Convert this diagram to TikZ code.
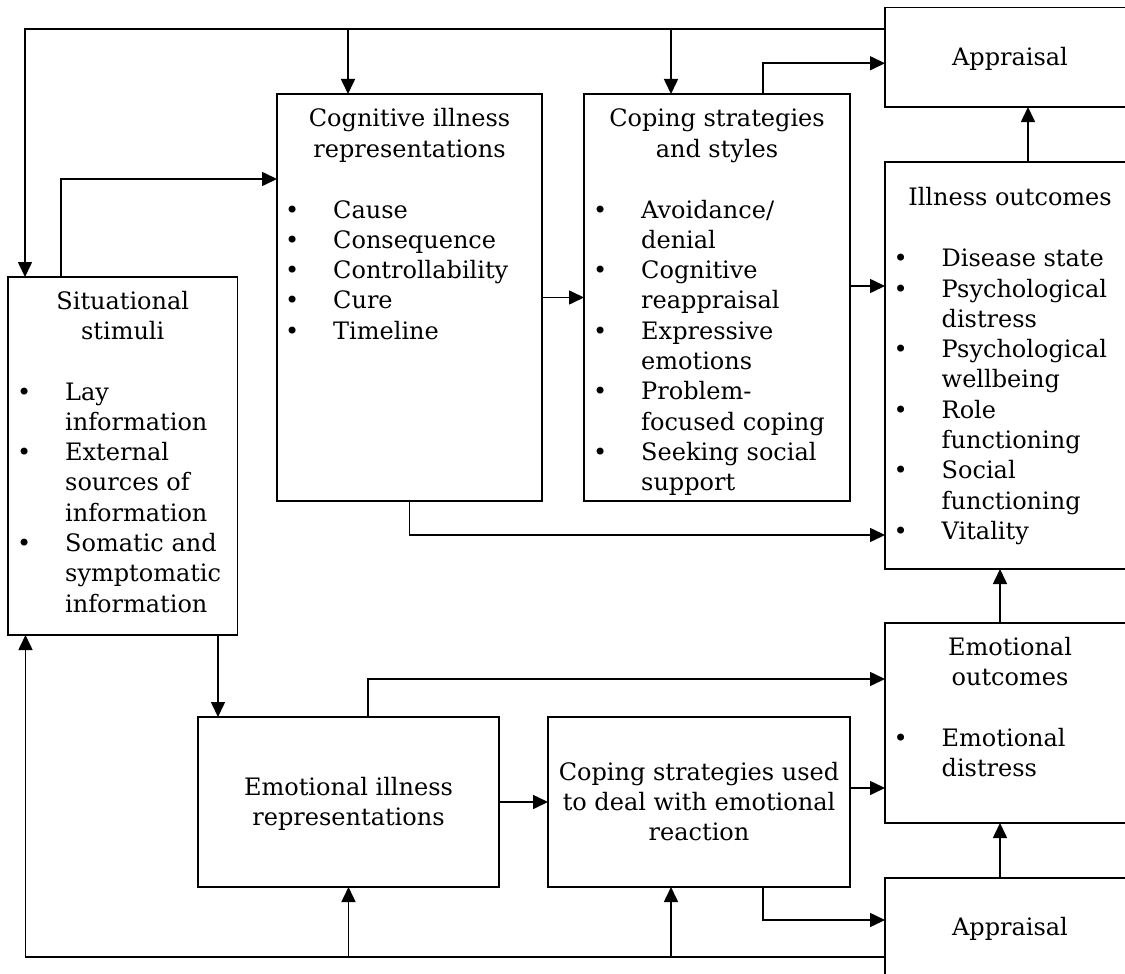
\documentclass[tikz,border=0pt]{standalone}
\usepackage{fontspec}
\setmainfont{DejaVu Serif}
\usetikzlibrary{arrows.meta}

% bullet item and continuation line for the box lists
\newcommand{\bitem}[1]{\makebox[0pt][c]{\textbullet}\hspace*{41pt}#1}
\newcommand{\bcont}[1]{\hspace*{41pt}#1}

\begin{document}
\begin{tikzpicture}[x=1pt,y=-1pt,
  txt/.style={font=\fontsize{24}{30.3}\selectfont},
  box/.style={draw, line width=1.6pt, rectangle, inner sep=0pt, outer sep=0pt, anchor=north west},
  % text nodes are placed by the baseline of their last line
  ttl/.style={txt, anchor=base, align=center, inner sep=0pt},
  lst/.style={txt, anchor=base west, align=left, inner sep=0pt},
  arr/.style={line width=1.6pt, -{Triangle[length=15pt,width=14pt]}},
]
\useasboundingbox (0,0) rectangle (1125,974);
\fill[white] (0,0) rectangle (1125,974);
\clip (0,0) rectangle (1125,974);

% boxes
\node[box, minimum width=229.5, minimum height=358] (sit) at (8,277) {};
\node[box, minimum width=265, minimum height=407] (cog) at (277,94) {};
\node[box, minimum width=266, minimum height=407] (cop) at (584,94) {};
\node[box, minimum width=250, minimum height=99.5] (apT) at (885,7.5) {};
\node[box, minimum width=250, minimum height=407] (ill) at (885,162) {};
\node[box, minimum width=250, minimum height=200] (emO) at (885,623) {};
\node[box, minimum width=301, minimum height=170] (emI) at (198,717) {};
\node[box, minimum width=302, minimum height=170] (cpE) at (548,717) {};
\node[box, minimum width=250, minimum height=100] (apB) at (885,878) {};

% box texts
\node[ttl] (sitT) at (122.75,339.6) {Situational\\stimuli};
\node[lst] (sitL) at (24,612.1) {\bitem{Lay}\\\bcont{information}\\\bitem{External}\\\bcont{sources of}\\\bcont{information}\\\bitem{Somatic and}\\\bcont{symptomatic}\\\bcont{information}};

\node[ttl] (cogT) at (409.5,157) {Cognitive illness\\representations};
\node[lst] (cogL) at (292,339.2) {\bitem{Cause}\\\bitem{Consequence}\\\bitem{Controllability}\\\bitem{Cure}\\\bitem{Timeline}};

\node[ttl] (copT) at (717,157) {Coping strategies\\and styles};
\node[lst] (copL) at (600,490.7) {\bitem{Avoidance/}\\\bcont{denial}\\\bitem{Cognitive}\\\bcont{reappraisal}\\\bitem{Expressive}\\\bcont{emotions}\\\bitem{Problem-}\\\bcont{focused coping}\\\bitem{Seeking social}\\\bcont{support}};

\node[ttl] (apTT) at (1010,65.7) {Appraisal};

\node[ttl] (illT) at (1010,205) {Illness outcomes};
\node[lst] (illL) at (900.5,539.4) {\bitem{Disease state}\\\bitem{Psychological}\\\bcont{distress}\\\bitem{Psychological}\\\bcont{wellbeing}\\\bitem{Role}\\\bcont{functioning}\\\bitem{Social}\\\bcont{functioning}\\\bitem{Vitality}};

\node[ttl] (emOT) at (1010,685.3) {Emotional\\outcomes};
\node[lst] (emOL) at (900.5,776.3) {\bitem{Emotional}\\\bcont{distress}};

\node[ttl] (emIT) at (348.5,825.3) {Emotional illness\\representations};
\node[ttl] (cpET) at (699,840.6) {Coping strategies used\\to deal with emotional\\reaction};

\node[ttl] (apBT) at (1010,935) {Appraisal};

% rails and connection points
\coordinate (rT) at (25,29);
\coordinate (rB) at (25.5,957);
\coordinate (cogIn) at ([xshift=-61.5]cog.north);
\coordinate (copIn) at ([xshift=-46]cop.north);
\coordinate (sitUp) at ([xshift=-61.75]sit.north);
\coordinate (cogW) at ([yshift=118.5]cog.west);
\coordinate (copR) at ([yshift=11.5]cop.east);
\coordinate (copUp) at ([xshift=46]cop.north);
\coordinate (apTL) at ([yshift=-6]apT.west);
\coordinate (illUp) at ([xshift=18]ill.north);
\coordinate (illW) at ([yshift=-169.5]ill.west);
\coordinate (sitDn) at ([xshift=95.25]sit.south);
\coordinate (emIUp) at ([xshift=19.5]emI.north);
\coordinate (emOW) at ([yshift=44]emO.west);
\coordinate (cpER) at ([yshift=14]cpE.east);
\coordinate (cpEDn) at ([xshift=64]cpE.south);
\coordinate (apBL) at ([yshift=8]apB.west);
\coordinate (cpEIn) at ([xshift=-28]cpE.south);
\coordinate (emOUp) at ([xshift=-10]emO.north);
\coordinate (apBUp) at ([xshift=-10]apB.north);

% connectors
\draw[arr] (apT.west |- rT) -- (rT) -- (rT |- sit.north);
\draw[arr] (cogIn |- rT) -- (cogIn);
\draw[arr] (copIn |- rT) -- (copIn);
\draw[arr] (sitUp) |- (cogW);
\draw[arr] (cog.east) -- (cog.east -| cop.west);
\draw[arr] (copR) -- (copR -| ill.west);
\draw[arr] (copUp) |- (apTL);
\draw[arr] (illUp) -- (illUp |- apT.south);
\draw[arr] (cog.south) |- (illW);
\draw[arr] (sitDn) -- (sitDn |- emI.north);
\draw[arr] (emIUp) |- (emOW);
\draw[arr] (emI.east) -- (cpE.west);
\draw[arr] (cpER) -- (cpER -| emO.west);
\draw[arr] (cpEDn) |- (apBL);
\draw[arr] (apB.west |- rB) -- (rB) -- (rB |- sit.south);
\draw[arr] (emI.south |- rB) -- (emI.south);
\draw[arr] (cpEIn |- rB) -- (cpEIn);
\draw[arr] (emOUp) -- (emOUp |- ill.south);
\draw[arr] (apBUp) -- (apBUp |- emO.south);
\end{tikzpicture}
\end{document}
